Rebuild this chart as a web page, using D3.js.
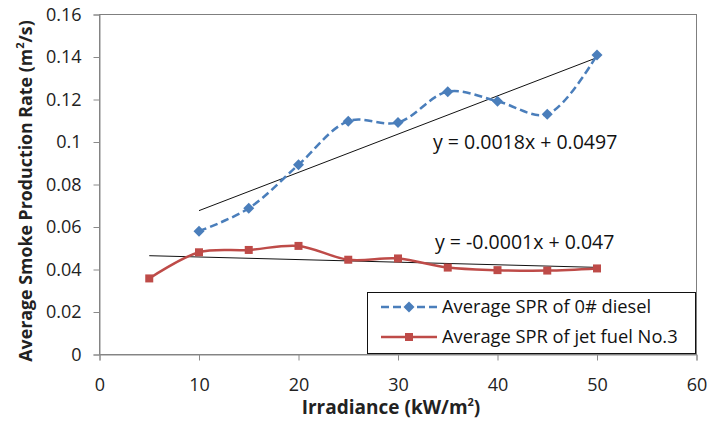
<!DOCTYPE html>
<html><head><meta charset="utf-8">
<script src="https://cdn.jsdelivr.net/npm/d3@7"></script>
<style>body{margin:0;background:#fff;} text{font-family:"Open Sans",Lato,sans-serif;}</style>
</head><body>
<svg id="c" width="709" height="422"></svg>
<script>
const irradiance = [5, 10, 15, 20, 25, 30, 35, 40, 45, 50];
const dieselX = [10, 15, 20, 25, 30, 35, 40, 45, 50];
const dieselSPR = [0.058, 0.0688, 0.0893, 0.1098, 0.1092, 0.1237, 0.1192, 0.1131, 0.1410];
const jetSPR = [0.0358, 0.0481, 0.0492, 0.0511, 0.0446, 0.0452, 0.0409, 0.0397, 0.0395, 0.0405];
const dieselTrend = [[10, 0.0677], [50, 0.1397]];
const jetTrend = [[5, 0.0465], [50, 0.0410]];
const xTicks = [0, 10, 20, 30, 40, 50, 60];
const yTicks = [0, 0.02, 0.04, 0.06, 0.08, 0.1, 0.12, 0.14, 0.16];
const seriesNames = ["Average SPR of 0# diesel", "Average SPR of jet fuel No.3"];
const eq1 = "y = 0.0018x + 0.0497";
const eq2 = "y = -0.0001x + 0.047";

const svg = d3.select("#c");
const x = d3.scaleLinear().domain([0, 60]).range([99.5, 696.5]);
const y = d3.scaleLinear().domain([0, 0.16]).range([354.5, 14.5]);
const blue = "#4a7ebb", red = "#be4b48";
const diamond = "M0,-5.5L5.5,0L0,5.5L-5.5,0Z";

svg.append("rect").attr("x", x(0)).attr("y", y(0.16)).attr("width", x(60)-x(0)).attr("height", y(0)-y(0.16))
  .attr("fill", "none").attr("stroke", "#7f7f7f").attr("stroke-width", 1);

const xa = svg.append("g").attr("transform", `translate(0,${y(0)})`)
  .call(d3.axisBottom(x).tickValues(xTicks).tickSize(6).tickFormat(d3.format("d")));
const ya = svg.append("g").attr("transform", `translate(${x(0)},0)`)
  .call(d3.axisLeft(y).tickValues(yTicks).tickSize(6).tickPadding(12).tickFormat(d => d === 0 ? "0" : String(+d.toFixed(2))));
[xa, ya].forEach(a => {
  a.select(".domain").attr("stroke", "#8a8a8a");
  a.selectAll(".tick line").attr("stroke", "#8a8a8a");
  a.selectAll(".tick text").attr("font-size", 18).attr("fill", "#222").attr("font-family", "'Open Sans',sans-serif");
});
xa.selectAll(".tick text").attr("y", 36).attr("dy", 0);

const xt = svg.append("text").attr("x", 391).attr("y", 414).attr("text-anchor", "middle")
  .attr("font-size", 19).attr("font-weight", "bold").attr("fill", "#222");
xt.append("tspan").text("Irradiance (kW/m");
xt.append("tspan").attr("font-size", 11).attr("dy", -8).text("2");
xt.append("tspan").attr("dy", 8).text(")");

const yt = svg.append("text").attr("transform", "translate(32,191) rotate(-90)").attr("text-anchor", "middle")
  .attr("font-size", 17.8).attr("font-weight", "bold").attr("fill", "#222");
yt.append("tspan").text("Average Smoke Production Rate (m");
yt.append("tspan").attr("font-size", 11).attr("dy", -8).text("2");
yt.append("tspan").attr("dy", 8).text("/s)");

const tl = d3.line().x(d => x(d[0])).y(d => y(d[1]));
svg.append("path").attr("d", tl(dieselTrend)).attr("stroke", "#111").attr("stroke-width", 1).attr("fill", "none");
svg.append("path").attr("d", tl(jetTrend)).attr("stroke", "#111").attr("stroke-width", 1).attr("fill", "none");

const dieselData = dieselX.map((v, i) => [v, dieselSPR[i]]);
const jetData = irradiance.map((v, i) => [v, jetSPR[i]]);
const sl = d3.line().x(d => x(d[0])).y(d => y(d[1])).curve(d3.curveCatmullRom.alpha(0.5));
svg.append("path").attr("d", sl(jetData)).attr("stroke", red).attr("stroke-width", 2.5).attr("fill", "none");
svg.append("path").attr("d", sl(dieselData)).attr("stroke", blue).attr("stroke-width", 2.5)
  .attr("stroke-dasharray", "8,4").attr("fill", "none");

svg.selectAll(".dm").data(dieselData).join("path").attr("class", "dm")
  .attr("transform", d => `translate(${x(d[0])},${y(d[1])})`).attr("d", diamond).attr("fill", blue);
svg.selectAll(".jm").data(jetData).join("rect").attr("class", "jm")
  .attr("x", d => x(d[0]) - 4).attr("y", d => y(d[1]) - 4).attr("width", 8).attr("height", 8).attr("fill", red);

svg.append("text").attr("x", 433).attr("y", 149).attr("font-size", 19.5).attr("fill", "#111").text(eq1);
svg.append("text").attr("x", 435).attr("y", 249).attr("font-size", 19.5).attr("fill", "#111").text(eq2);

const lg = svg.append("g");
lg.append("rect").attr("x", 367.5).attr("y", 292.5).attr("width", 328).attr("height", 61)
  .attr("fill", "#fff").attr("stroke", "#111").attr("stroke-width", 1);
const ly = [307, 337];
lg.append("line").attr("x1", 381).attr("x2", 437).attr("y1", ly[0]).attr("y2", ly[0])
  .attr("stroke", blue).attr("stroke-width", 2.5).attr("stroke-dasharray", "8,4");
lg.append("path").attr("transform", `translate(409,${ly[0]})`).attr("d", diamond).attr("fill", blue);
lg.append("line").attr("x1", 381).attr("x2", 437).attr("y1", ly[1]).attr("y2", ly[1])
  .attr("stroke", red).attr("stroke-width", 2.5);
lg.append("rect").attr("x", 405).attr("y", ly[1] - 4).attr("width", 8).attr("height", 8).attr("fill", red);
seriesNames.forEach((n, i) => {
  lg.append("text").attr("x", 442).attr("y", ly[i]).attr("dy", "0.35em").attr("font-size", 18.3).attr("fill", "#111").text(n);
});
</script>
</body></html>
